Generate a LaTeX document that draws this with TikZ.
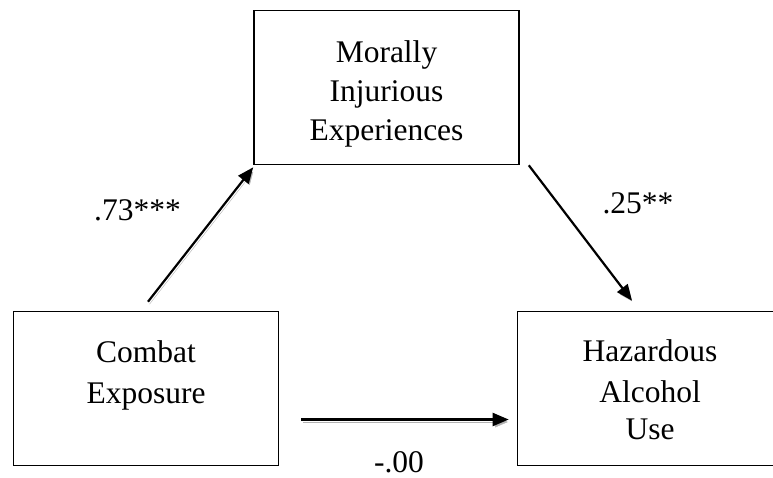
\documentclass[tikz,border=0pt]{standalone}
\usepackage{fontspec}
\setmainfont{Liberation Serif}
\usetikzlibrary{arrows.meta}

\begin{document}
\begin{tikzpicture}[x=1pt, y=-1pt,
  varbox/.style={draw, line width=1.6pt, minimum width=265pt, minimum height=154pt, inner sep=0pt},
  vartext/.style={align=center, font=\fontsize{31.5}{39}\selectfont, inner sep=0pt},
  patharrow/.style={line width=2.2pt, -{Triangle[length=16pt,width=13pt]},
    preaction={draw=black!30, transform canvas={shift={(1.5pt,-2.5pt)}}}}]
  \useasboundingbox (0,0) rectangle (773,477);
  % Boxes
  \node[varbox] (moral) at (386.5,87.5) {};
  \node[varbox] (combat) at (146,388.5) {};
  \node[varbox] (hazard) at (650,388.5) {};
  % Box texts
  \node[vartext] (moral-text) at (386.5,93.6) {Morally\\Injurious\\Experiences};
  \node[vartext] (combat-text) at (146,375) {Combat\\[2pt]Exposure};
  \node[vartext] (hazard-text) at (650,390) {Hazardous\\[2pt]Alcohol\\[-2pt]Use};
  % Paths
  \draw[patharrow] ([xshift=2pt,yshift=9pt]combat.north) -- ([yshift=-2pt]moral.south west);
  \draw[patharrow] ([xshift=9pt]moral.south east) -- ([xshift=-18pt,yshift=10pt]hazard.north);
  \draw[patharrow] ([xshift=22pt,yshift=-31pt]combat.east) -- ([xshift=-8pt,yshift=-31pt]hazard.west);
  % Coefficients
  \node[vartext, anchor=base] (a-label) at (137.5,220) {.73***};
  \node[vartext, anchor=base] (b-label) at (638,213) {.25**};
  \node[vartext, anchor=base] (c-label) at (399,472) {-.00};
\end{tikzpicture}
\end{document}
